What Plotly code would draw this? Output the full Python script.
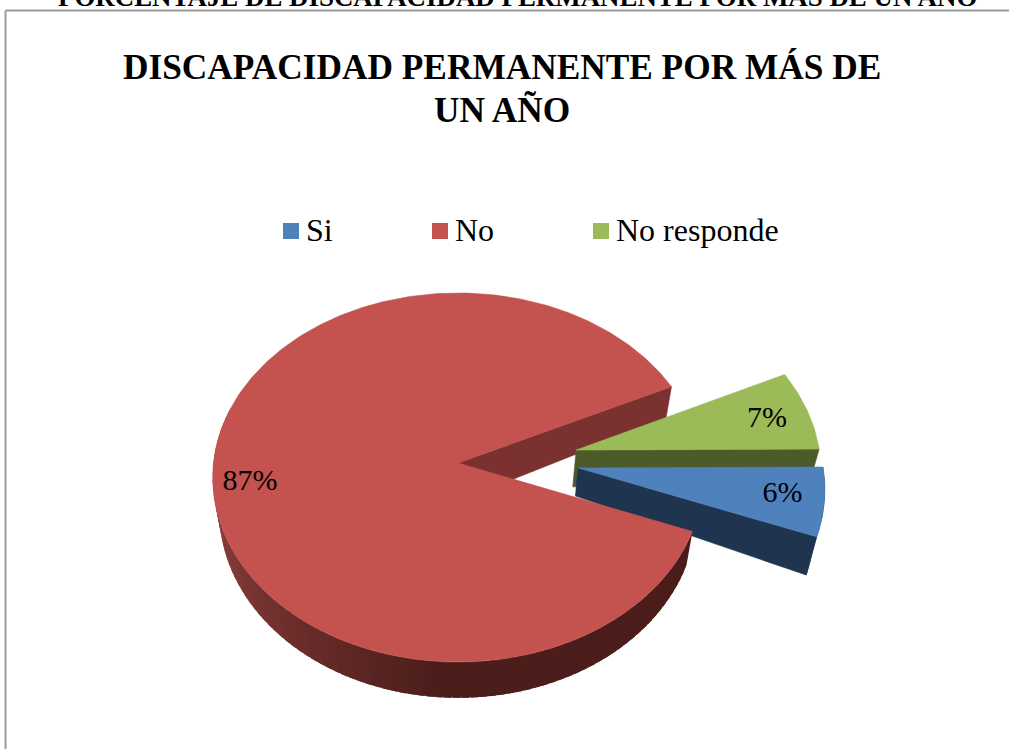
import math
import plotly.graph_objects as go

# Chart data
categories = ["Si", "No", "No responde"]
shares = [6, 87, 7]
colors_top = ["#4F81BD", "#C4524F", "#9BBB59"]
colors_cut = ["#1F344F", "#7A3130", "#4D5A2A"]
heading_lines = ["DISCAPACIDAD PERMANENTE POR MÁS DE", "UN AÑO"]
section_caption = "PORCENTAJE DE DISCAPACIDAD PERMANENTE POR MÁS DE UN AÑO"

# Tilted-disc projection, in page pixels
CX, CY = 458, 463
A, B = 244.5, 183.4
PERSP, TAPER = 0.0786, 0.026 / 33
START = -0.3   # first slice starts near 3 o'clock, running clockwise
SERIF = "Liberation Serif"

# Per-slice offset from the disc centre and wall depth at apex / rim
explode = {"Si": (0.49, 0.027), "No": (0.0, 0.0), "No responde": (0.486, -0.071)}
depths = {"Si": (28, 37), "No": (38, 33), "No responde": (37, 37)}
label_pos = {"Si": (0.832, 10.0), "No": (0.85, 172.8), "No responde": (0.82, -12.0)}
swatch_x = {"Si": 291, "No": 440, "No responde": 601}
LEGEND_Y = 231


def project(u, v, z=0.0):
    w = 1 / (1 - PERSP * v)
    return CX + A * u * w * (1 - TAPER * z), CY + (B * v + z) * w


def rim(name, deg, bottom=False):
    ox, oy = explode[name]
    t = math.radians(deg)
    return project(ox + math.cos(t), oy + math.sin(t), depths[name][1] if bottom else 0.0)


def apex(name, bottom=False):
    ox, oy = explode[name]
    return project(ox, oy, depths[name][0] if bottom else 0.0)


def arc(a0, a1, step=1.0):
    n = max(2, int(abs(a1 - a0) / step))
    return [a0 + (a1 - a0) * i / n for i in range(n + 1)]


def poly(points, color, edge=0.6):
    return go.Scatter(
        x=[p[0] for p in points] + [points[0][0]],
        y=[p[1] for p in points] + [points[0][1]],
        mode="lines", fill="toself", fillcolor=color,
        line=dict(color=color, width=edge),
        hoverinfo="skip", showlegend=False,
    )


def blend(stops, a):
    for (a0, c0), (a1, c1) in zip(stops, stops[1:]):
        if a0 <= a <= a1:
            f = (a - a0) / (a1 - a0)
            rgb = [round(c0[i] + (c1[i] - c0[i]) * f) for i in range(3)]
            return "rgb(%d,%d,%d)" % tuple(rgb)
    return "rgb(%d,%d,%d)" % tuple(stops[-1][1])


# Slice angle ranges derived from the shares
spans = {}
cursor = START
for name, share in zip(categories, shares):
    spans[name] = (cursor, cursor + share * 3.6)
    cursor += share * 3.6

fig = go.Figure()
idx = {n: i for i, n in enumerate(categories)}


def cut_face(name, deg):
    return poly([apex(name), rim(name, deg), rim(name, deg, True), apex(name, True)], colors_cut[idx[name]])


def top_face(name):
    a0, a1 = spans[name]
    return poly([apex(name)] + [rim(name, a) for a in arc(a0, a1)], colors_top[idx[name]])


# Far cut face of the large slice sits behind the exploded pieces
fig.add_trace(cut_face("No", spans["No"][1]))

# Exploded green slice, then blue in front of it
fig.add_trace(cut_face("No responde", spans["No responde"][1]))
fig.add_trace(top_face("No responde"))
fig.add_trace(cut_face("Si", spans["Si"][1]))
ang = arc(spans["Si"][0], spans["Si"][1], 1.0)
fig.add_trace(poly([rim("Si", a) for a in ang] + [rim("Si", a, True) for a in reversed(ang)], colors_cut[0]))
fig.add_trace(top_face("Si"))

# Shaded outer wall of the large slice; each band runs under the next to hide seams
wall_stops = [(0, (74, 28, 26)), (95, (76, 30, 27)), (130, (108, 46, 43)),
              (165, (136, 61, 58)), (200, (140, 63, 60))]
wall = arc(spans["No"][0], 196, 2.0)
for a0, a1 in zip(wall, wall[1:]):
    over = [a0, (a0 + a1) / 2, a1, a1 + 1.5]
    fig.add_trace(poly([rim("No", a) for a in over] + [rim("No", a, True) for a in reversed(over)],
                       blend(wall_stops, (a0 + a1) / 2), edge=0))
fig.add_trace(top_face("No"))

# Percent labels
for name, share in zip(categories, shares):
    r, deg = label_pos[name]
    ox, oy = explode[name]
    t = math.radians(deg)
    x, y = project(ox + r * math.cos(t), oy + r * math.sin(t))
    fig.add_trace(go.Scatter(
        x=[x], y=[y], mode="text", text=[f"{share}%"], textposition="middle center",
        textfont=dict(family=SERIF, size=30, color="#000000"),
        hoverinfo="skip", showlegend=False,
    ))

# Legend row: swatches plus their labels
annotations = []
for name in categories:
    fig.add_trace(go.Scatter(
        x=[swatch_x[name]], y=[LEGEND_Y], mode="markers",
        marker=dict(symbol="square", size=16, color=colors_top[idx[name]]),
        hoverinfo="skip", showlegend=False,
    ))
    annotations.append(dict(x=swatch_x[name] + 12.5, y=LEGEND_Y - 1, text=name, xanchor="left",
                            font=dict(family=SERIF, size=32, color="#000000")))

annotations += [
    dict(x=517.5, y=0, yshift=3, text=f"<b>{section_caption}</b>", font=dict(family=SERIF, size=26.9, color="#000000")),
    dict(x=502, y=67, text=f"<b>{heading_lines[0]}</b>", font=dict(family=SERIF, size=35.3, color="#000000")),
    dict(x=502, y=110, text=f"<b>{heading_lines[1]}</b>", font=dict(family=SERIF, size=35.3, color="#000000")),
]
for a in annotations:
    a.setdefault("xanchor", "center")
    a.update(xref="x", yref="y", showarrow=False, yanchor="middle")

frame = dict(color="#9A9A9A", width=2)
fig.update_layout(
    width=1009, height=749, autosize=False,
    margin=dict(l=0, r=0, t=0, b=0),
    paper_bgcolor="#FFFFFF", plot_bgcolor="#FFFFFF",
    xaxis=dict(range=[0, 1009], visible=False, fixedrange=True),
    yaxis=dict(range=[749, 0], visible=False, fixedrange=True),
    annotations=annotations,
    shapes=[
        dict(type="line", xref="x", yref="y", x0=5.5, y0=10.5, x1=1009, y1=10.5, line=frame),
        dict(type="line", xref="x", yref="y", x0=5.5, y0=10.5, x1=5.5, y1=749, line=frame),
    ],
)
fig.write_html("out.html", config={"displayModeBar": False})
